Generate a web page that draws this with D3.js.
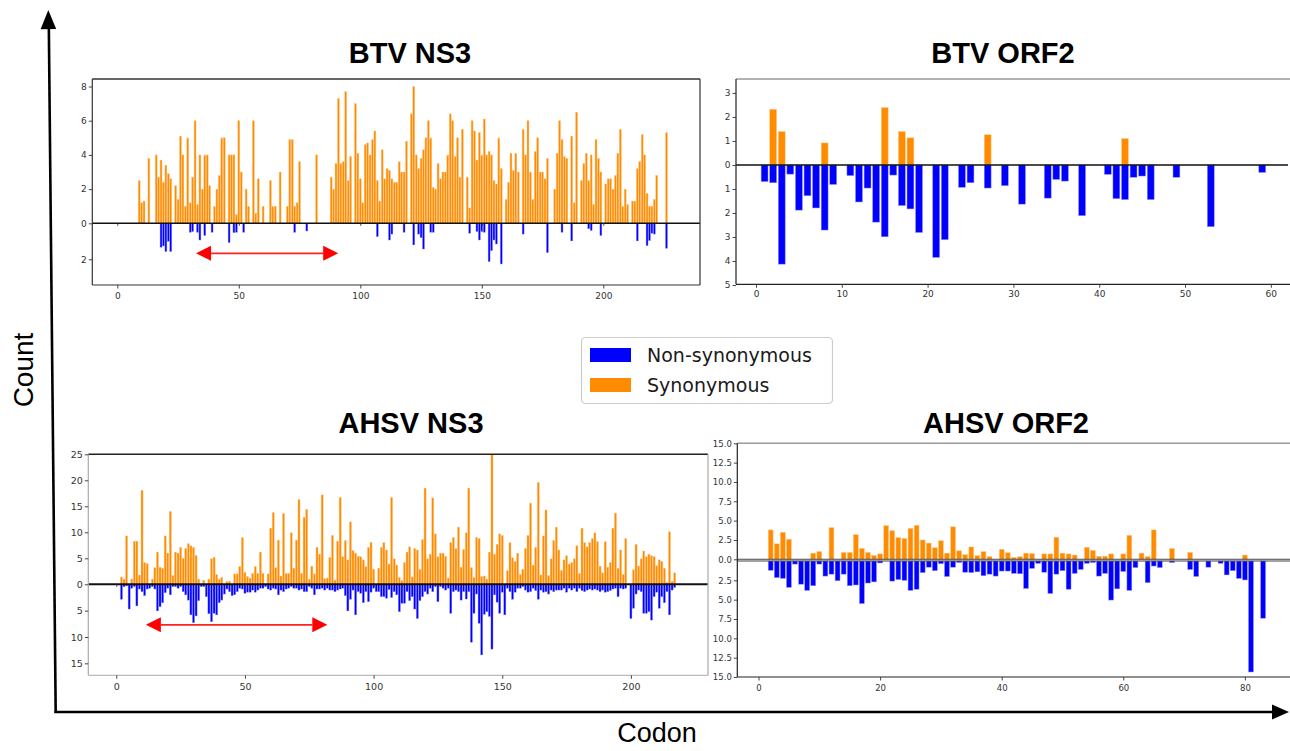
<!DOCTYPE html>
<html><head><meta charset="utf-8">
<script src="https://cdn.jsdelivr.net/npm/d3@7"></script>
<style>body{margin:0;background:#fff;}svg{display:block;}</style>
</head><body>
<script>
// ---------------- data ----------------
// BTV NS3 — synonymous counts per codon
const btvNs3SynCodon = [9,10,11,13,16,17,18,19,20,21,22,24,25,26,27,28,29,30,31,32,33,34,35,36,37,38,40,41,42,43,44,46,47,48,49,50,51,53,54,56,57,58,60,63,64,65,67,70,71,72,73,74,75,82,88,89,90,91,92,93,94,95,96,98,99,100,101,102,103,104,105,106,107,108,109,110,111,112,113,114,115,116,117,118,119,121,122,123,124,125,126,127,128,129,130,131,132,133,134,135,136,137,138,139,140,141,142,144,145,146,147,148,149,150,151,152,153,154,155,156,157,158,160,161,162,163,164,165,167,168,169,170,171,172,173,174,175,176,177,180,181,182,183,184,185,187,188,189,191,192,193,194,195,196,197,198,199,201,202,203,204,205,206,207,208,209,210,212,213,214,215,216,217,218,219,220,221,222,226];
const btvNs3SynCount = [2.5,1.2,1.3,3.8,4.0,2.7,3.7,2.4,3.4,2.9,2.6,2.2,1.4,5.1,4.0,1.0,5.0,1.2,2.7,6.0,1.1,4.0,2.0,4.0,4.0,2.2,1.0,2.0,2.8,5.0,5.0,4.0,4.0,4.0,0.5,6.0,3.0,2.0,1.0,6.0,0.6,2.6,1.0,2.5,1.0,1.0,3.0,1.0,4.9,4.9,1.0,1.2,3.6,4.0,2.7,2.0,3.5,7.3,3.5,3.6,7.7,2.5,3.9,7.0,4.1,2.6,1.2,4.6,4.7,4.0,4.9,5.4,2.5,1.3,4.3,2.6,3.2,3.1,2.6,2.4,2.4,3.6,3.0,3.0,4.8,6.4,8.0,4.0,3.2,3.8,4.3,5.0,6.0,5.0,2.1,2.0,3.5,2.6,3.0,3.0,4.0,6.4,6.0,3.9,5.0,2.7,5.5,2.7,0.9,6.0,5.4,3.7,5.3,4.0,6.1,4.0,4.2,4.0,2.5,2.3,5.0,3.2,1.4,2.4,4.1,3.1,4.1,3.0,5.5,4.0,6.0,3.0,1.4,4.2,5.0,3.0,3.0,2.6,3.8,2.0,4.1,6.0,4.9,3.9,3.8,5.1,1.2,6.5,2.5,3.5,4.1,2.5,4.0,1.1,4.9,3.8,3.0,2.3,2.6,2.6,2.0,2.8,4.1,5.5,1.0,2.0,1.1,1.3,1.3,3.2,3.6,5.2,4.0,1.75,1.0,1.0,1.4,2.8,5.3];
// BTV NS3 — non-synonymous counts per codon
const btvNs3NonCodon = [18,19,20,21,22,30,31,33,34,36,39,46,48,49,52,73,78,107,112,113,118,122,124,125,126,129,130,145,148,149,150,151,153,154,155,156,158,167,177,183,187,194,195,199,214,218,219,220,221,226];
const btvNs3NonCount = [1.33,1.26,1.57,1.0,1.57,0.5,0.46,0.5,0.93,0.68,0.5,1.07,0.52,0.5,0.5,0.5,0.43,0.74,0.93,0.6,0.5,1.2,0.6,0.8,1.43,0.5,0.5,0.55,0.46,0.93,0.46,0.5,2.13,1.52,0.93,1.15,2.26,0.6,1.63,0.5,0.98,0.3,0.4,0.68,0.98,1.24,0.96,0.55,0.6,1.39];

// BTV ORF2
const btvOrf2SynCodon = [2,3,8,15,17,18,27,43];
const btvOrf2SynCount = [2.32,1.39,0.92,2.39,1.39,1.13,1.26,1.1];
const btvOrf2NonCodon = [1,2,3,4,5,6,7,8,9,11,12,13,14,15,16,17,18,19,21,22,24,25,27,29,31,34,35,36,38,41,42,43,44,45,46,49,53,59];
const btvOrf2NonCount = [0.69,0.74,4.13,0.38,1.88,1.28,1.79,2.71,0.81,0.44,1.54,0.96,2.38,2.99,0.42,1.69,1.83,2.81,3.85,3.11,0.93,0.74,0.96,0.86,1.63,1.38,0.6,0.67,2.11,0.39,1.40,1.44,0.51,0.46,1.44,0.51,2.57,0.31];

// AHSV NS3 — one value per codon, codons 1..218
const ahsvNs3Syn = [0,1.4,1.0,9.3,0,1.0,8.3,8.3,1.8,18.1,4.2,4.0,0,1.0,3.2,6.2,3.3,3.1,9.3,6.0,14.0,1.7,6.2,6.0,7.1,5.0,6.9,7.8,7.4,7.1,5.6,1.0,0,0.8,0,1.0,4.9,5.2,1.9,1.0,1.3,0,0.5,0.6,0,2.0,2.0,3.4,9.0,2.3,1.5,1.2,2.1,3.4,2.1,6.2,2.1,0,2.0,10.8,13.8,3.2,8.5,1.6,13.6,2.1,2.1,9.9,3.1,8.5,16.3,2.1,12.9,14.4,1.0,3.5,2.0,7.1,5.8,17.2,1.1,1.2,5.2,9.4,0.8,8.3,16.7,5.3,8.4,4.7,12.0,6.5,6.0,5.4,5.3,4.7,3.4,7.1,8.1,2.9,0,3.1,7.1,8.0,6.6,3.9,16.7,4.9,3.7,1.3,0.7,4.2,6.2,7.2,1.4,6.9,6.6,2.9,8.6,18.5,4.9,5.8,16.6,9.7,5.3,6.0,6.0,5.4,1.2,8.0,9.0,6.9,11.0,3.3,6.7,9.9,18.5,3.2,1.3,9.0,8.8,1.5,1.6,1.0,6.2,25,5.8,7.7,9.7,9.4,0,2.6,8.0,5.1,4.4,6.0,1.9,2.9,6.9,9.4,15.6,3.7,7.1,19.6,1.8,9.3,14.3,1.7,4.9,8.4,11.0,6.6,2.7,4.7,5.5,3.9,4.2,4.9,7.4,2.1,10.8,8.0,7.2,8.0,8.8,9.9,8.2,3.5,2.2,8.2,3.3,4.2,10.8,13.7,3.1,6.6,1.9,8.8,0,0,2.8,7.7,3.5,4.9,6.4,5.3,5.8,5.5,5.3,3.6,4.7,4.4,3.1,0.4,10.1,0.6,2.2,0];
const ahsvNs3Non = [0,2.85,0.45,0.3,4.7,0.75,0.45,4.1,0.9,1.4,2.15,0.9,0.75,0.45,0.9,5.05,4.25,3.5,1.6,0.75,2.0,0.45,0.45,0.75,0.45,1.4,2.0,3.0,5.8,7.3,6.0,3.1,0.45,0.45,2.35,5.6,7.1,5.5,5.8,3.5,3.0,1.85,0.9,1.4,2.15,2.0,1.4,0.75,0.9,1.7,1.5,1.5,1.1,1.5,1.1,0.75,0.75,0.45,0.9,1.1,0.75,0.9,2.0,1.1,1.4,0.9,0.75,0.45,0.75,0.75,1.1,0.9,1.4,1.4,0.45,0.75,2.0,0.9,0.9,0.75,1.1,0.75,1.1,1.1,1.4,1.1,0.9,0.75,2.15,5.05,2.85,1.1,5.8,1.4,1.7,3.5,1.4,3.3,1.5,0.75,1.4,1.4,2.35,2.35,2.65,1.0,2.5,1.4,2.0,5.2,3.6,3.6,1.4,3.1,2.35,4.7,6.5,3.1,2.35,1.4,1.85,0.75,1.4,0.45,3.3,0.45,0.75,1.1,0.75,5.5,1.4,1.1,1.4,3.0,1.4,2.8,1.4,11.0,5.5,1.85,7.4,13.4,5.7,5.2,6.1,12.3,2.0,3.4,5.5,1.5,5.8,0.75,1.4,2.85,1.5,0.75,0.75,0.45,1.1,1.5,1.4,0.75,1.2,2.85,1.1,1.5,1.4,1.85,1.1,1.4,1.1,1.1,1.1,0.75,1.5,0.75,1.1,0.75,1.4,0.75,1.2,1.4,1.1,0.9,1.1,0.9,1.1,1.4,1.1,1.5,1.4,1.2,0.9,0.75,2.35,0.75,0.9,0.75,0,6.5,4.55,1.85,1.1,1.4,5.5,5.5,5.2,6.8,2.35,1.5,4.55,2.35,3.5,1.4,5.8,1.1,0.6,0];

// AHSV ORF2
const ahsvOrf2SynCodon = [2,3,4,5,9,10,12,14,15,16,17,18,19,20,21,22,23,24,25,26,27,28,29,30,31,32,33,34,35,36,37,38,40,41,42,43,44,45,47,48,49,50,51,52,54,55,56,57,58,60,61,63,64,65,68,71,80];
const ahsvOrf2SynCount = [3.8,2.0,3.5,2.6,0.8,1.0,4.1,0.9,0.9,3.2,1.4,0.9,0.5,0.7,4.35,3.7,2.8,2.7,4.0,4.4,2.5,2.1,1.5,2.4,0.8,4.2,1.1,0.6,1.6,0.5,1.0,0.35,1.3,0.85,0.25,0.35,0.8,0.75,0.7,0.7,2.85,0.8,0.7,0.55,1.55,1.15,0.4,0.4,0.7,0.7,3.1,0.8,0.35,3.8,1.4,0.9,0.55];
const ahsvOrf2NonCodon = [2,3,4,5,6,7,8,9,10,11,12,13,14,15,16,17,18,19,20,22,23,24,25,26,27,28,29,30,31,32,33,34,35,36,37,38,39,40,41,42,43,44,45,46,47,48,49,50,51,52,53,54,55,56,57,58,59,60,61,62,64,65,66,68,71,72,74,76,77,78,79,80,81,83];
const ahsvOrf2NonCount = [1.2,2.15,2.25,3.4,0.4,3.0,3.8,3.2,0.4,1.95,1.7,2.55,1.7,3.2,3.1,5.5,2.85,2.7,0.25,2.6,2.4,2.5,3.8,3.65,1.5,0.8,1.25,0.35,2.0,0.8,0.2,1.45,1.5,1.4,1.9,1.7,1.95,1.3,1.3,1.6,1.65,3.55,0.95,0.3,1.45,4.2,1.7,1.25,3.65,1.6,1.1,0.3,0.2,1.95,1.6,5.05,3.6,1.35,3.8,0.85,2.8,0.65,0.85,0.2,1.1,2.0,0.8,0.3,1.8,1.25,2.25,2.45,14.35,7.4];

// codon ranges marked with red double arrows
const btvNs3Span = [32.4, 90.9];
const ahsvNs3Span = [11.5, 82.0];

const seriesNames = ["Non-synonymous", "Synonymous"];
const seriesColors = ["#0000ff", "#ff8c00"];

// ---------------- drawing ----------------
const W = 1290, H = 751;
const svg = d3.select("body").append("svg").attr("width", W).attr("height", H)
  .style("font-family", "'DejaVu Sans', sans-serif");

function zipPairs(codons, counts) { return codons.map((c, i) => ({c, v: counts[i]})); }
function densePairs(vals) { return vals.map((v, i) => ({c: i + 1, v})).filter(d => d.v > 0); }

function styleAxis(g, fs) {
  g.select(".domain").remove();
  g.selectAll(".tick line").attr("stroke", "#333").attr("stroke-width", 0.9);
  g.selectAll(".tick text").attr("fill", "#333").style("font-size", fs + "px")
    .style("font-family", "'DejaVu Sans', sans-serif");
}

function drawPanel(p) {
  const g = svg.append("g");
  const x = d3.scaleLinear().domain(p.xDomain).range([p.left, p.right]);
  const base2 = p.base2 ?? p.base;
  const yUp = d3.scaleLinear().domain([0, p.upMax]).range([p.base, p.top]);
  const yDown = d3.scaleLinear().domain([0, p.downMax]).range([base2, p.bottom]);
  const bw = x(0.8) - x(0);

  g.append("g").selectAll("rect").data(p.syn).join("rect")
    .attr("x", d => x(d.c) - bw / 2).attr("width", bw)
    .attr("y", d => yUp(d.v)).attr("height", d => p.base - yUp(d.v))
    .attr("fill", seriesColors[1]).attr("stroke", "#ffc98a").attr("stroke-width", p.edge);
  g.append("g").selectAll("rect").data(p.non).join("rect")
    .attr("x", d => x(d.c) - bw / 2).attr("width", bw)
    .attr("y", base2).attr("height", d => yDown(d.v) - base2)
    .attr("fill", seriesColors[0]).attr("stroke", "#8c8cff").attr("stroke-width", p.edge);

  // zero lines
  g.append("line").attr("x1", p.left).attr("x2", p.right).attr("y1", p.base).attr("y2", p.base)
    .attr("stroke", p.zeroColor).attr("stroke-width", p.zeroWidth);
  if (p.base2 !== undefined) {
    g.append("line").attr("x1", p.left).attr("x2", p.right).attr("y1", p.base2).attr("y2", p.base2)
      .attr("stroke", p.zeroColor).attr("stroke-width", p.zeroWidth);
  }

  // spines
  const sp = (x1, y1, x2, y2, c, w) => g.append("line").attr("x1", x1).attr("y1", y1)
    .attr("x2", x2).attr("y2", y2).attr("stroke", c).attr("stroke-width", w);
  sp(p.left, p.top, p.spineRight, p.top, p.topColor, p.topWidth);
  sp(p.left, p.top, p.left, p.bottom, p.leftColor, 1.2);
  sp(p.left, p.bottom, p.spineRight, p.bottom, p.bottomColor, 1.2);
  if (p.rightColor) sp(p.right, p.top, p.right, p.bottom, p.rightColor, 1.2);

  // axes
  const ax = g.append("g").attr("transform", `translate(0,${p.bottom})`)
    .call(d3.axisBottom(x).tickValues(p.xTicks).tickSize(3.5).tickPadding(p.xPad).tickFormat(d3.format("d")));
  styleAxis(ax, p.fs);
  if (p.baseTicks) {
    const bt = g.append("g").attr("transform", `translate(0,${p.base})`)
      .call(d3.axisBottom(x).tickValues(p.xTicks).tickSize(2.5).tickFormat(""));
    styleAxis(bt, p.fs);
  }
  const ayu = g.append("g").attr("transform", `translate(${p.left},0)`)
    .call(d3.axisLeft(yUp).tickValues(p.upTicks).tickSize(3.5).tickPadding(2).tickFormat(d3.format(p.yFmt)));
  styleAxis(ayu, p.fs);
  const ayd = g.append("g").attr("transform", `translate(${p.left},0)`)
    .call(d3.axisLeft(yDown).tickValues(p.downTicks).tickSize(3.5).tickPadding(2).tickFormat(d3.format(p.yFmt)));
  styleAxis(ayd, p.fs);

  // title
  svg.append("text").attr("x", p.titleX).attr("y", p.titleY).attr("text-anchor", "middle")
    .style("font-family", "'Liberation Sans', Arial, sans-serif").style("font-weight", "bold")
    .style("font-size", "29px").attr("fill", "#000").text(p.title);

  // red double arrow marking a codon span
  if (p.span) {
    const y = yDown(p.spanLevel), x1 = x(p.span[0]), x2 = x(p.span[1]), hl = 15, hh = 7.5;
    g.append("line").attr("x1", x1 + hl).attr("x2", x2 - hl).attr("y1", y).attr("y2", y)
      .attr("stroke", "#f22").attr("stroke-width", 1.8);
    g.append("path").attr("d", `M${x1},${y}L${x1 + hl},${y - hh}L${x1 + hl},${y + hh}Z`).attr("fill", "#ff0000");
    g.append("path").attr("d", `M${x2},${y}L${x2 - hl},${y - hh}L${x2 - hl},${y + hh}Z`).attr("fill", "#ff0000");
  }
  return g;
}

drawPanel({
  title: "BTV NS3", titleX: 410, titleY: 63,
  syn: zipPairs(btvNs3SynCodon, btvNs3SynCount), non: zipPairs(btvNs3NonCodon, btvNs3NonCount),
  left: 92.3, right: 700, spineRight: 700, xDomain: [-10.29, 239.79],
  top: 79, base: 223.3, bottom: 285, upMax: 8.44, downMax: 3.43,
  upTicks: [0, 2, 4, 6, 8], downTicks: [2], xTicks: [0, 50, 100, 150, 200], yFmt: "d",
  fs: 9, xPad: 4, edge: 0.4, zeroColor: "#111", zeroWidth: 1.6, baseTicks: true,
  topColor: "#333", topWidth: 1.4, leftColor: "#333", bottomColor: "#333", rightColor: "#333",
  span: btvNs3Span, spanLevel: 1.67
});

drawPanel({
  title: "BTV ORF2", titleX: 1003, titleY: 63,
  syn: zipPairs(btvOrf2SynCodon, btvOrf2SynCount), non: zipPairs(btvOrf2NonCodon, btvOrf2NonCount),
  left: 736, right: 1288, spineRight: 1290, xDomain: [-2.33, 62.0],
  top: 79, base: 165, bottom: 284.3, upMax: 3.58, downMax: 4.97,
  upTicks: [0, 1, 2, 3], downTicks: [1, 2, 3, 4, 5], xTicks: [0, 10, 20, 30, 40, 50, 60], yFmt: "d",
  fs: 9, xPad: 3, edge: 0.5, zeroColor: "#111", zeroWidth: 1.6,
  topColor: "#999", topWidth: 1.6, leftColor: "#222", bottomColor: "#222"
});

drawPanel({
  title: "AHSV NS3", titleX: 411, titleY: 433,
  syn: densePairs(ahsvNs3Syn), non: densePairs(ahsvNs3Non),
  left: 88.3, right: 708, spineRight: 708, xDomain: [-10.88, 229.96],
  top: 454.3, base: 584.3, bottom: 675.3, upMax: 25, downMax: 17.27,
  upTicks: [0, 5, 10, 15, 20, 25], downTicks: [5, 10, 15], xTicks: [0, 50, 100, 150, 200], yFmt: "d",
  fs: 9.5, xPad: 4, edge: 0.4, zeroColor: "#111", zeroWidth: 2, baseTicks: true,
  topColor: "#222", topWidth: 1.4, leftColor: "#aaa", bottomColor: "#bbb", rightColor: "#aaa",
  span: ahsvNs3Span, spanLevel: 7.7
});

drawPanel({
  title: "AHSV ORF2", titleX: 1006, titleY: 433,
  syn: zipPairs(ahsvOrf2SynCodon, ahsvOrf2SynCount), non: zipPairs(ahsvOrf2NonCodon, ahsvOrf2NonCount),
  left: 737.3, right: 1290, spineRight: 1290, xDomain: [-3.49, 87.42],
  top: 443.3, base: 559.3, base2: 561, bottom: 677, upMax: 15, downMax: 15,
  upTicks: d3.range(0, 15.01, 2.5), downTicks: d3.range(2.5, 15.01, 2.5), xTicks: [0, 20, 40, 60, 80], yFmt: ".1f",
  fs: 8.5, xPad: 4, edge: 0.5, zeroColor: "#444", zeroWidth: 1.1,
  topColor: "#999", topWidth: 1.6, leftColor: "#222", bottomColor: "#222"
});

// legend
const lg = svg.append("g");
lg.append("rect").attr("x", 581.5).attr("y", 337.5).attr("width", 251).attr("height", 66).attr("rx", 4)
  .attr("fill", "#fff").attr("stroke", "#ccc").attr("stroke-width", 1.2);
seriesNames.forEach((name, i) => {
  lg.append("rect").attr("x", 590).attr("y", 348 + i * 30).attr("width", 41).attr("height", 14)
    .attr("fill", seriesColors[i]);
  lg.append("text").attr("x", 647).attr("y", 362 + i * 30).style("font-size", "19px")
    .attr("fill", "#1a1a1a").text(name);
});

// overall axes with arrows
const fr = svg.append("g");
fr.append("line").attr("x1", 48.8).attr("y1", 24).attr("x2", 55.7).attr("y2", 713)
  .attr("stroke", "#000").attr("stroke-width", 2.6);
fr.append("path").attr("d", "M48.3,10L56.2,29L40.6,29.2Z").attr("fill", "#000");
fr.append("line").attr("x1", 54.4).attr("y1", 712).attr("x2", 1276).attr("y2", 712)
  .attr("stroke", "#000").attr("stroke-width", 2.6);
fr.append("path").attr("d", "M1289,712L1272,704.5L1272,719.5Z").attr("fill", "#000");
fr.append("text").attr("transform", "translate(33,370) rotate(-90)").attr("text-anchor", "middle")
  .style("font-family", "'Liberation Sans', Arial, sans-serif").style("font-size", "28px").text("Count");
fr.append("text").attr("x", 657).attr("y", 742).attr("text-anchor", "middle")
  .style("font-family", "'Liberation Sans', Arial, sans-serif").style("font-size", "27px").text("Codon");
</script>
</body></html>
